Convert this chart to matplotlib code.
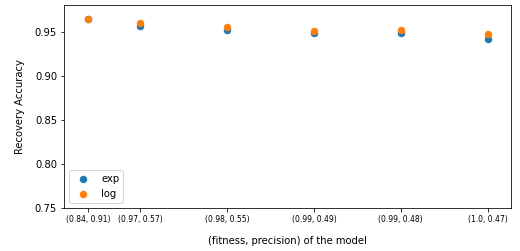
import matplotlib
matplotlib.use('Agg')
import matplotlib.pyplot as plt

# data
labels = ['(0.84, 0.91)', '(0.97, 0.57)', '(0.98, 0.55)',
          '(0.99, 0.49)', '(0.99, 0.48)', '(1.0, 0.47)']
x_vals = [0, 0.6, 1.6, 2.6, 3.6, 4.6]
acc_exp = [0.965, 0.957, 0.953, 0.949, 0.949, 0.942]
acc_log = [0.965, 0.961, 0.956, 0.951, 0.953, 0.948]

fig = plt.figure(figsize=(520 / 72, 251 / 72), dpi=72)
ax = fig.add_axes([64 / 520, 43 / 251, 447 / 520, 203 / 251])

ax.scatter(x_vals, acc_exp, label='exp', s=42)
ax.scatter(x_vals, acc_log, label='log', s=42)

ax.set_xticks(x_vals)
ax.set_xticklabels(labels, fontsize=7.6)
ax.set_xlim(-0.28, 4.87)
ax.set_ylim(0.75, 0.981)
ax.set_yticks([0.75, 0.80, 0.85, 0.90, 0.95])
ax.set_xlabel('(fitness, precision) of the model', labelpad=12)
ax.set_ylabel('Recovery Accuracy', labelpad=10)
ax.legend(loc='lower left')

fig.savefig('out.png', dpi=72)
